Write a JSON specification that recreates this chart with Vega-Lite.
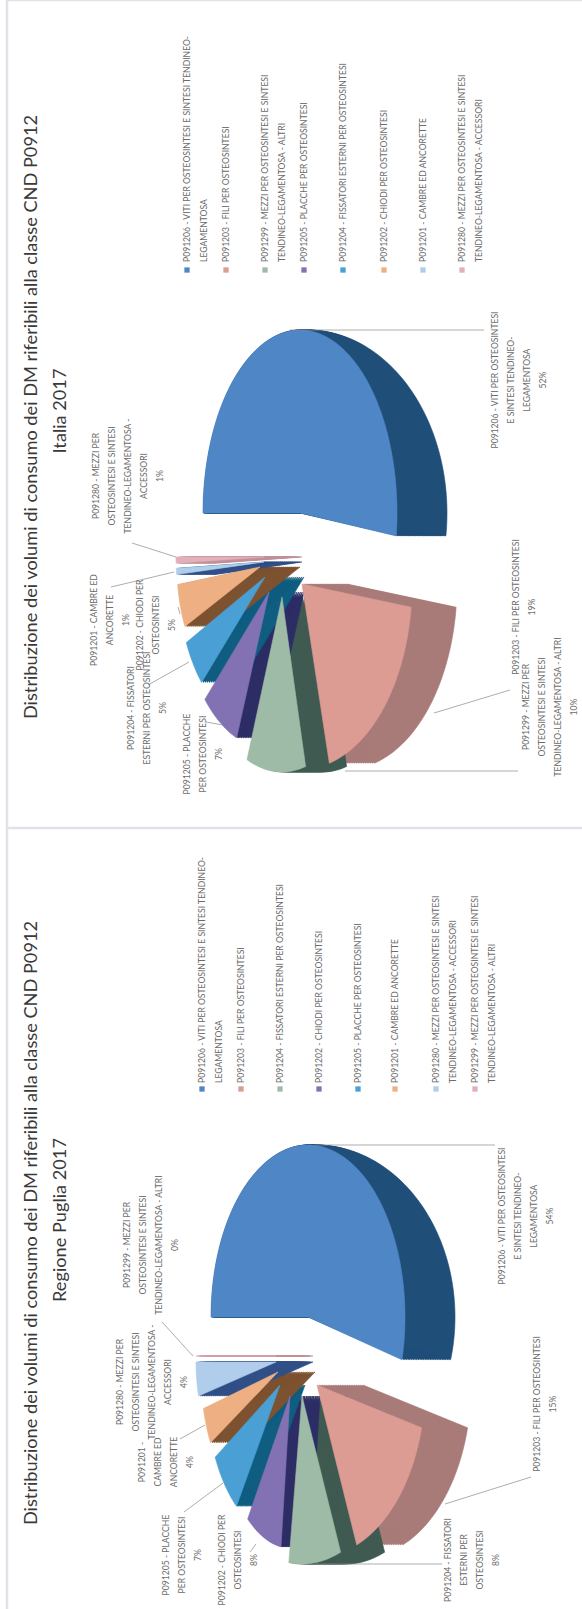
{"$schema":"https://vega.github.io/schema/vega-lite/v6.json","width":582,"height":1609,"autosize":{"type":"none"},"padding":0,"background":"white",
"config":{"view":{"stroke":null},"range":{"category":["#1f4e79","#a87a78","#3f5a50","#2d2d66","#0f5d80","#7d5230","#2f4f86","#c09098","#4f86c6","#dc9b93","#9dbba6","#8272b4","#4a9fd4","#eeb083","#b0cdeb","#e2b0b8"]}},
"data":{"values":[
{"panel":"Italia","ord":1,"code":"P091206","pct":52,"label":"P091206 - VITI PER OSTEOSINTESI\nE SINTESI  TENDINEO-\nLEGAMENTOSA\n52%","leg":"P091206 - VITI PER OSTEOSINTESI  E SINTESI  TENDINEO-\nLEGAMENTOSA"},
{"panel":"Italia","ord":2,"code":"P091203","pct":19,"label":"P091203 - FILI PER OSTEOSINTESI\n19%","leg":"P091203 - FILI PER OSTEOSINTESI"},
{"panel":"Italia","ord":3,"code":"P091299","pct":10,"label":"P091299 - MEZZI PER\nOSTEOSINTESI  E SINTESI\nTENDINEO-LEGAMENTOSA  - ALTRI\n10%","leg":"P091299 - MEZZI PER OSTEOSINTESI  E SINTESI\nTENDINEO-LEGAMENTOSA  - ALTRI"},
{"panel":"Italia","ord":4,"code":"P091205","pct":7,"label":"P091205 - PLACCHE\nPER OSTEOSINTESI\n7%","leg":"P091205 - PLACCHE PER OSTEOSINTESI"},
{"panel":"Italia","ord":5,"code":"P091204","pct":5,"label":"P091204 - FISSATORI\nESTERNI  PER OSTEOSINTESI\n5%","leg":"P091204 - FISSATORI ESTERNI  PER OSTEOSINTESI"},
{"panel":"Italia","ord":6,"code":"P091202","pct":5,"label":"P091202 - CHIODI PER\nOSTEOSINTESI\n5%","leg":"P091202 - CHIODI PER OSTEOSINTESI"},
{"panel":"Italia","ord":7,"code":"P091201","pct":1,"label":"P091201 - CAMBRE ED\nANCORETTE\n1%","leg":"P091201 - CAMBRE ED ANCORETTE"},
{"panel":"Italia","ord":8,"code":"P091280","pct":1,"label":"P091280 - MEZZI PER\nOSTEOSINTESI  E SINTESI\nTENDINEO-LEGAMENTOSA -\nACCESSORI\n1%","leg":"P091280 - MEZZI PER OSTEOSINTESI  E SINTESI\nTENDINEO-LEGAMENTOSA  - ACCESSORI"},
{"panel":"Puglia","ord":1,"code":"P091206","pct":54,"label":"P091206 - VITI PER OSTEOSINTESI\nE SINTESI  TENDINEO-\nLEGAMENTOSA\n54%","leg":"P091206 - VITI PER OSTEOSINTESI  E SINTESI  TENDINEO-\nLEGAMENTOSA"},
{"panel":"Puglia","ord":2,"code":"P091203","pct":15,"label":"P091203 - FILI PER OSTEOSINTESI\n15%","leg":"P091203 - FILI PER OSTEOSINTESI"},
{"panel":"Puglia","ord":3,"code":"P091204","pct":8,"label":"P091204 - FISSATORI\nESTERNI  PER\nOSTEOSINTESI\n8%","leg":"P091204 - FISSATORI ESTERNI  PER OSTEOSINTESI"},
{"panel":"Puglia","ord":4,"code":"P091202","pct":8,"label":"P091202 - CHIODI PER\nOSTEOSINTESI\n8%","leg":"P091202 - CHIODI PER OSTEOSINTESI"},
{"panel":"Puglia","ord":5,"code":"P091205","pct":7,"label":"P091205 - PLACCHE\nPER OSTEOSINTESI\n7%","leg":"P091205 - PLACCHE PER OSTEOSINTESI"},
{"panel":"Puglia","ord":6,"code":"P091201","pct":4,"label":"P091201 -\nCAMBRE ED\nANCORETTE\n4%","leg":"P091201 - CAMBRE ED ANCORETTE"},
{"panel":"Puglia","ord":7,"code":"P091280","pct":4,"label":"P091280 - MEZZI PER\nOSTEOSINTESI  E SINTESI\nTENDINEO-LEGAMENTOSA -\nACCESSORI\n4%","leg":"P091280 - MEZZI PER OSTEOSINTESI  E SINTESI\nTENDINEO-LEGAMENTOSA  - ACCESSORI"},
{"panel":"Puglia","ord":8,"code":"P091299","pct":0,"label":"P091299 - MEZZI PER\nOSTEOSINTESI  E SINTESI\nTENDINEO-LEGAMENTOSA  - ALTRI\n0%","leg":"P091299 - MEZZI PER OSTEOSINTESI  E SINTESI\nTENDINEO-LEGAMENTOSA  - ALTRI"}
]},
"transform":[
{"stack":"pct","groupby":["panel"],"sort":[{"field":"ord"}],"as":["s0","s1"]},
{"calculate":"slice(datum.panel,0,1)+datum.ord","as":"k"},
{"calculate":"{I1:[300,513,97,183,8,42],I2:[302,584,110,185,45,0],I3:[282,597,95,175,41,0],I4:[269,592,88,157,35,0],I5:[265,577,87,154,39,0],I6:[260,567,83,140,40,0],I7:[264,562,88,100,38,0],I8:[264,557,88,100,38,0],P1:[308,1317,97,172,8,42],P2:[317,1385,108,172,46,0],P3:[302,1396,105,168,44,0],P4:[290,1396,72,152,30,0],P5:[280,1385,74,150,25,0],P6:[278,1372,77,147,37,0],P7:[276,1362,80,137,37,0],P8:[276,1356,80,137,37,0]}[datum.k]","as":"g"}
],
"encoding":{
"x":{"field":"px","type":"quantitative","scale":{"domain":[0,582]},"axis":null},
"y":{"field":"py","type":"quantitative","scale":{"domain":[0,1609],"reverse":true},"axis":null}
},
"layer":[
{"data":{"values":[{"f":"v"},{"f":"h"},{"f":"t"}]},
"transform":[{"calculate":"{v:[7,0,7,1609],h:[7,828,582,828],t:[7,0,582,0]}[datum.f]","as":"r"},{"calculate":"datum.r[0]","as":"px"},{"calculate":"datum.r[1]","as":"py"},{"calculate":"datum.r[2]","as":"px2"},{"calculate":"datum.r[3]","as":"py2"}],
"mark":{"type":"rule","color":"#e1e1e9","strokeWidth":2.5},
"encoding":{"x2":{"field":"px2"},"y2":{"field":"py2"}}},
{"transform":[
{"calculate":"sequence(datum.s0-0.5,datum.s1+0.5,0.5)","as":"a"},{"flatten":["a"]},
{"calculate":"[0.05,0.1,0.15,0.2,0.25,0.3,0.35,0.4,0.45,0.5,0.55,0.6,0.65,0.7,0.75,0.8,0.85,0.9,0.95,1]","as":"o"},{"flatten":["o"]},
{"calculate":"(datum.a*3.6-90)*PI/180","as":"phi"},
{"calculate":"(datum.a<datum.s0?datum.g[0]:datum.g[0]+datum.g[2]*sin(datum.phi)+datum.o*datum.g[5]*max(sin(datum.phi),0))+datum.o*datum.g[4]","as":"px"},
{"calculate":"datum.a<datum.s0?datum.g[1]:datum.g[1]-datum.g[3]*cos(datum.phi)","as":"py"},
{"calculate":"'d'+datum.ord","as":"part"}],
"mark":{"type":"line","interpolate":"linear-closed","strokeWidth":0.6},
"encoding":{"order":{"field":"a"},"detail":[{"field":"k"},{"field":"o"}],"fill":{"field":"part","legend":null},"stroke":{"field":"part","legend":null}}},
{"transform":[
{"calculate":"sequence(datum.s0-0.5,datum.s1+0.5,0.5)","as":"a"},{"flatten":["a"]},
{"calculate":"(datum.a*3.6-90)*PI/180","as":"phi"},
{"calculate":"datum.a<datum.s0?datum.g[0]:datum.g[0]+datum.g[2]*sin(datum.phi)","as":"px"},
{"calculate":"datum.a<datum.s0?datum.g[1]:datum.g[1]-datum.g[3]*cos(datum.phi)","as":"py"},
{"calculate":"'f'+datum.ord","as":"part"}],
"mark":{"type":"line","interpolate":"linear-closed","strokeWidth":0.6},
"encoding":{"order":{"field":"a"},"detail":{"field":"k"},"fill":{"field":"part","legend":null},"stroke":{"field":"part","legend":null}}},
{"transform":[
{"calculate":"{I1:[290,330,484,330],I2:[434,713,510,690],I3:[345,771,518,771],I4:[223,725,206,722],I5:[189,662,148,685],I6:[178,607,180,614],I7:[174,572,111,587],I8:[176,557,132,543],P1:[315,1145,495,1145],P2:[445,1504,531,1477],P3:[315,1564,442,1564],P4:[256,1544,250,1552],P5:[223,1483,184,1512],P6:[205,1425,180,1439],P7:[180,1400,180,1400],P8:[193,1356,162,1322]}[datum.k]","as":"r"},
{"calculate":"datum.r[0]","as":"px"},{"calculate":"datum.r[1]","as":"py"},{"calculate":"datum.r[2]","as":"px2"},{"calculate":"datum.r[3]","as":"py2"}],
"mark":{"type":"rule","color":"#8a8a8a","strokeWidth":0.7},
"encoding":{"x2":{"field":"px2"},"y2":{"field":"py2"}}},
{"transform":[
{"calculate":"{I1:[519,380],I2:[524,607],I3:[550,707],I4:[203,754],I5:[147,708],I6:[156,625],I7:[110,620],I8:[128,476],P1:[526,1216],P2:[545,1404],P3:[472,1560],P4:[238,1560],P5:[182,1555],P6:[166,1462],P7:[152,1382],P8:[151,1245]}[datum.k]","as":"r"},
{"calculate":"datum.r[0]-(length(split(datum.label,'\\n'))-1)*8","as":"px"},{"calculate":"datum.r[1]","as":"py"}],
"mark":{"type":"text","angle":270,"align":"center","baseline":"middle","font":"Lato","fontSize":8.6,"lineHeight":16,"lineBreak":"\n","color":"#6b6b6b"},
"encoding":{"text":{"field":"label"}}},
{"transform":[
{"calculate":"{I1:187,I2:226,I3:265,I4:304,I5:343,I6:384,I7:423,I8:462,P1:202,P2:241,P3:280,P4:319,P5:358,P6:395,P7:436,P8:475}[datum.k]","as":"lx"},
{"calculate":"datum.lx+3","as":"px"},{"calculate":"datum.panel=='Italia'?262:1083","as":"py"}],
"mark":{"type":"text","angle":270,"align":"left","baseline":"alphabetic","font":"Lato","fontSize":8.6,"lineHeight":16.5,"lineBreak":"\n","color":"#6b6b6b"},
"encoding":{"text":{"field":"leg"}}},
{"transform":[
{"calculate":"{I1:187,I2:226,I3:265,I4:304,I5:343,I6:384,I7:423,I8:462,P1:202,P2:241,P3:280,P4:319,P5:358,P6:395,P7:436,P8:475}[datum.k]","as":"px"},
{"calculate":"datum.panel=='Italia'?270:1089","as":"py"},{"calculate":"'f'+datum.ord","as":"part"}],
"mark":{"type":"point","shape":"square","filled":true,"size":28,"opacity":1},
"encoding":{"fill":{"field":"part","legend":null}}},
{"data":{"values":[{"t":"Distribuzione dei volumi di consumo dei DM riferibili alla classe CND P0912","n":"a"},{"t":"Italia 2017","n":"b"},{"t":"Distribuzione dei volumi di consumo dei DM riferibili alla classe CND P0912","n":"c"},{"t":"Regione Puglia 2017","n":"d"}]},
"transform":[{"calculate":"{a:[32,417],b:[61,411],c:[32,1223],d:[61,1220]}[datum.n]","as":"r"},{"calculate":"datum.r[0]","as":"px"},{"calculate":"datum.r[1]","as":"py"}],
"mark":{"type":"text","angle":270,"align":"center","baseline":"middle","font":"Lato","fontSize":18.2,"color":"#3a3a3a"},
"encoding":{"text":{"field":"t"}}}
]}
